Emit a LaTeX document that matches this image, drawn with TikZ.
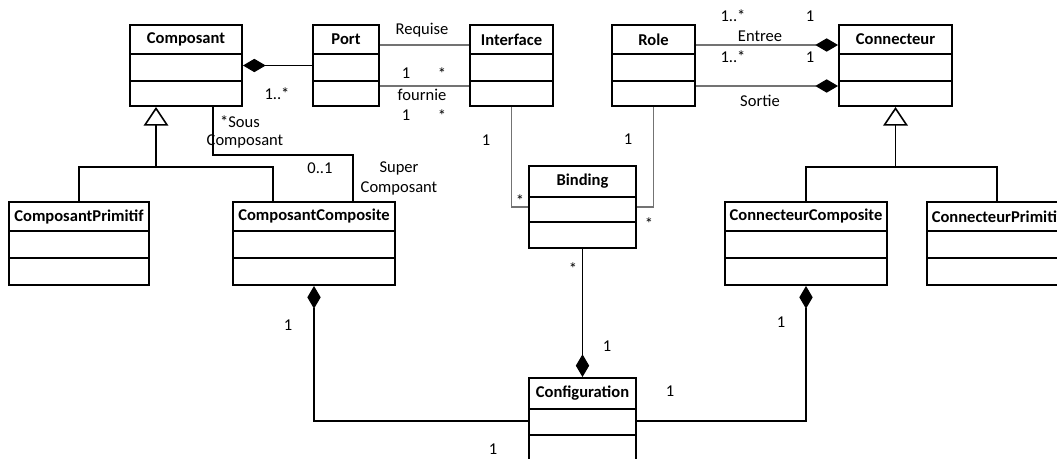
\documentclass[tikz,border=0pt]{standalone}
\usepackage{fontspec}
\setmainfont{Carlito}
\usetikzlibrary{arrows.meta,calc}
\tikzset{
  clsbox/.style={draw=black, line width=1.5pt, inner sep=0pt},
  clsline/.style={draw=black, line width=1.5pt},
  clstitle/.style={font=\fontsize{12.4}{14}\selectfont\bfseries, inner sep=0pt},
  lbl/.style={font=\fontsize{12.4}{14}\selectfont, inner sep=0pt},
  assoc/.style={draw=black!55, line width=0.8pt},
  link/.style={draw=black, line width=0.8pt},
  compo/.style={draw=black, line width=0.8pt, {Diamond[length=17pt,width=10pt]}-},
  compoend/.style={-{Diamond[length=17pt,width=10pt,color=black]}},
  gener/.style={draw=black, line width=1.2pt},
  genhead/.style={-{Triangle[open,length=14pt,width=18.5pt,fill=white,line width=1.2pt]}}
}
\newcommand\umlclass[8]{%
  \node[clsbox, minimum width={(#4-#2)*0.75pt}, minimum height={(#5-#3)*0.75pt}]
    (#1) at ({(#2+#4)/2},{(#3+#5)/2}) {};
  \draw[clsline] (#2,#6) -- (#4,#6) (#2,#7) -- (#4,#7);
  \node[clstitle] (#1-title) at ({(#2+#4)/2},{(#3+#6)/2}) {#8};
}
\begin{document}
\begin{tikzpicture}[x=0.75pt,y=-0.75pt]
\useasboundingbox (0,0) rectangle (1057,459);
\clip (0,0) rectangle (1057,459);
\fill[white] (0,0) rectangle (1057,459);

% classes
\umlclass{composant}{130}{25}{242}{106}{54}{81}{Composant}
\umlclass{port}{313}{25}{379}{106}{54}{81}{Port}
\umlclass{interface}{470}{25}{553}{106}{54}{81}{Interface}
\umlclass{role}{612}{25}{695}{106}{54}{81}{Role}
\umlclass{connecteur}{839}{25}{952}{106}{54}{81}{Connecteur}
\umlclass{cprim}{9}{202}{149}{285}{231}{258}{ComposantPrimitif}
\umlclass{ccomp}{233}{202}{395}{285}{231}{258}{ComposantComposite}
\umlclass{binding}{529}{166}{636}{248}{197}{222}{Binding}
\umlclass{kcomp}{725}{202}{887}{285}{231}{258}{ConnecteurComposite}
\umlclass{kprim}{927}{202}{1067}{285}{231}{258}{ConnecteurPrimitif}
\umlclass{config}{529}{378}{636}{464}{409}{435}{Configuration}

% Composant -- Port (composition)
\draw[compo] (composant.east) -- (port.west);

% Port -- Interface
\path (port.east) ++(0,-20.5) coordinate (rqa);
\path (port.east) ++(0,20.5) coordinate (fna);
\draw[assoc] (rqa) -- (rqa -| interface.west);
\draw[assoc] (fna) -- (fna -| interface.west);

% Role -- Connecteur
\path (role.east) ++(0,-20.5) coordinate (ena);
\path (role.east) ++(0,20.5) coordinate (soa);
\draw[assoc, compoend] (ena) -- (ena -| connecteur.west);
\draw[assoc, compoend] (soa) -- (soa -| connecteur.west);

% generalisation Composant
\path ($(composant.south west)+(27,0)$) coordinate (gA);
\path ($(gA)+(0,60)$) coordinate (gAj);
\path ($(ccomp.north west)+(41,0)$) coordinate (gAc);
\draw[gener, genhead] (gAj) -- (gA);
\draw[gener] (cprim.north) |- (gAj) -| (gAc);

% generalisation Connecteur
\path (connecteur.south) ++(0,60) coordinate (gBj);
\draw[gener, genhead] (gBj) -- (connecteur.south);
\draw[gener] (kcomp.north) |- (gBj) -| (kprim.north);

% Sous / Super Composant
\path ($(composant.south west)+(84,0)$) coordinate (ssA);
\path ($(ccomp.north west)+(121,0)$) coordinate (ssB);
\draw[link] (ssA) -- ++(0,48) -| (ssB);

% Interface / Role -- Binding
\draw[assoc] (interface.south) |- (binding.west);
\draw[assoc] (role.south) |- (binding.east);

% compositions into Configuration
\draw[compo] (config.north) -- (binding.south);
\draw[compo] (ccomp.south) |- (config.west);
\draw[compo] (kcomp.south) |- (config.east);

% labels
\node[lbl] (l1) at (277,94) {1..*};
\node[lbl] (l2) at (422,30) {Requise};
\node[lbl] (l3) at (406,73) {1};
\node[lbl] (l4) at (442,74) {*};
\node[lbl] (l5) at (422,95) {fournie};
\node[lbl] (l6) at (406,115) {1};
\node[lbl] (l7) at (442,116) {*};
\node[lbl] (l8) at (240,122) {*Sous};
\node[lbl] (l9) at (245,141) {Composant};
\node[lbl] (l10) at (320,168) {0..1};
\node[lbl] (l11) at (399,168) {Super};
\node[lbl] (l12) at (399,188) {Composant};
\node[lbl] (l13) at (486,140) {1};
\node[lbl] (l14) at (520,201) {*};
\node[lbl] (l15) at (733,16) {1..*};
\node[lbl] (l16) at (810,16) {1};
\node[lbl] (l17) at (760,36) {Entree};
\node[lbl] (l18) at (733,57) {1..*};
\node[lbl] (l19) at (810,57) {1};
\node[lbl] (l20) at (760,101) {Sortie};
\node[lbl] (l21) at (628,139) {1};
\node[lbl] (l22) at (649,224) {*};
\node[lbl] (l23) at (573,269) {*};
\node[lbl] (l24) at (607,346) {1};
\node[lbl] (l25) at (288,325) {1};
\node[lbl] (l26) at (493,449) {1};
\node[lbl] (l27) at (781,322) {1};
\node[lbl] (l28) at (670,391) {1};
\end{tikzpicture}
\end{document}
